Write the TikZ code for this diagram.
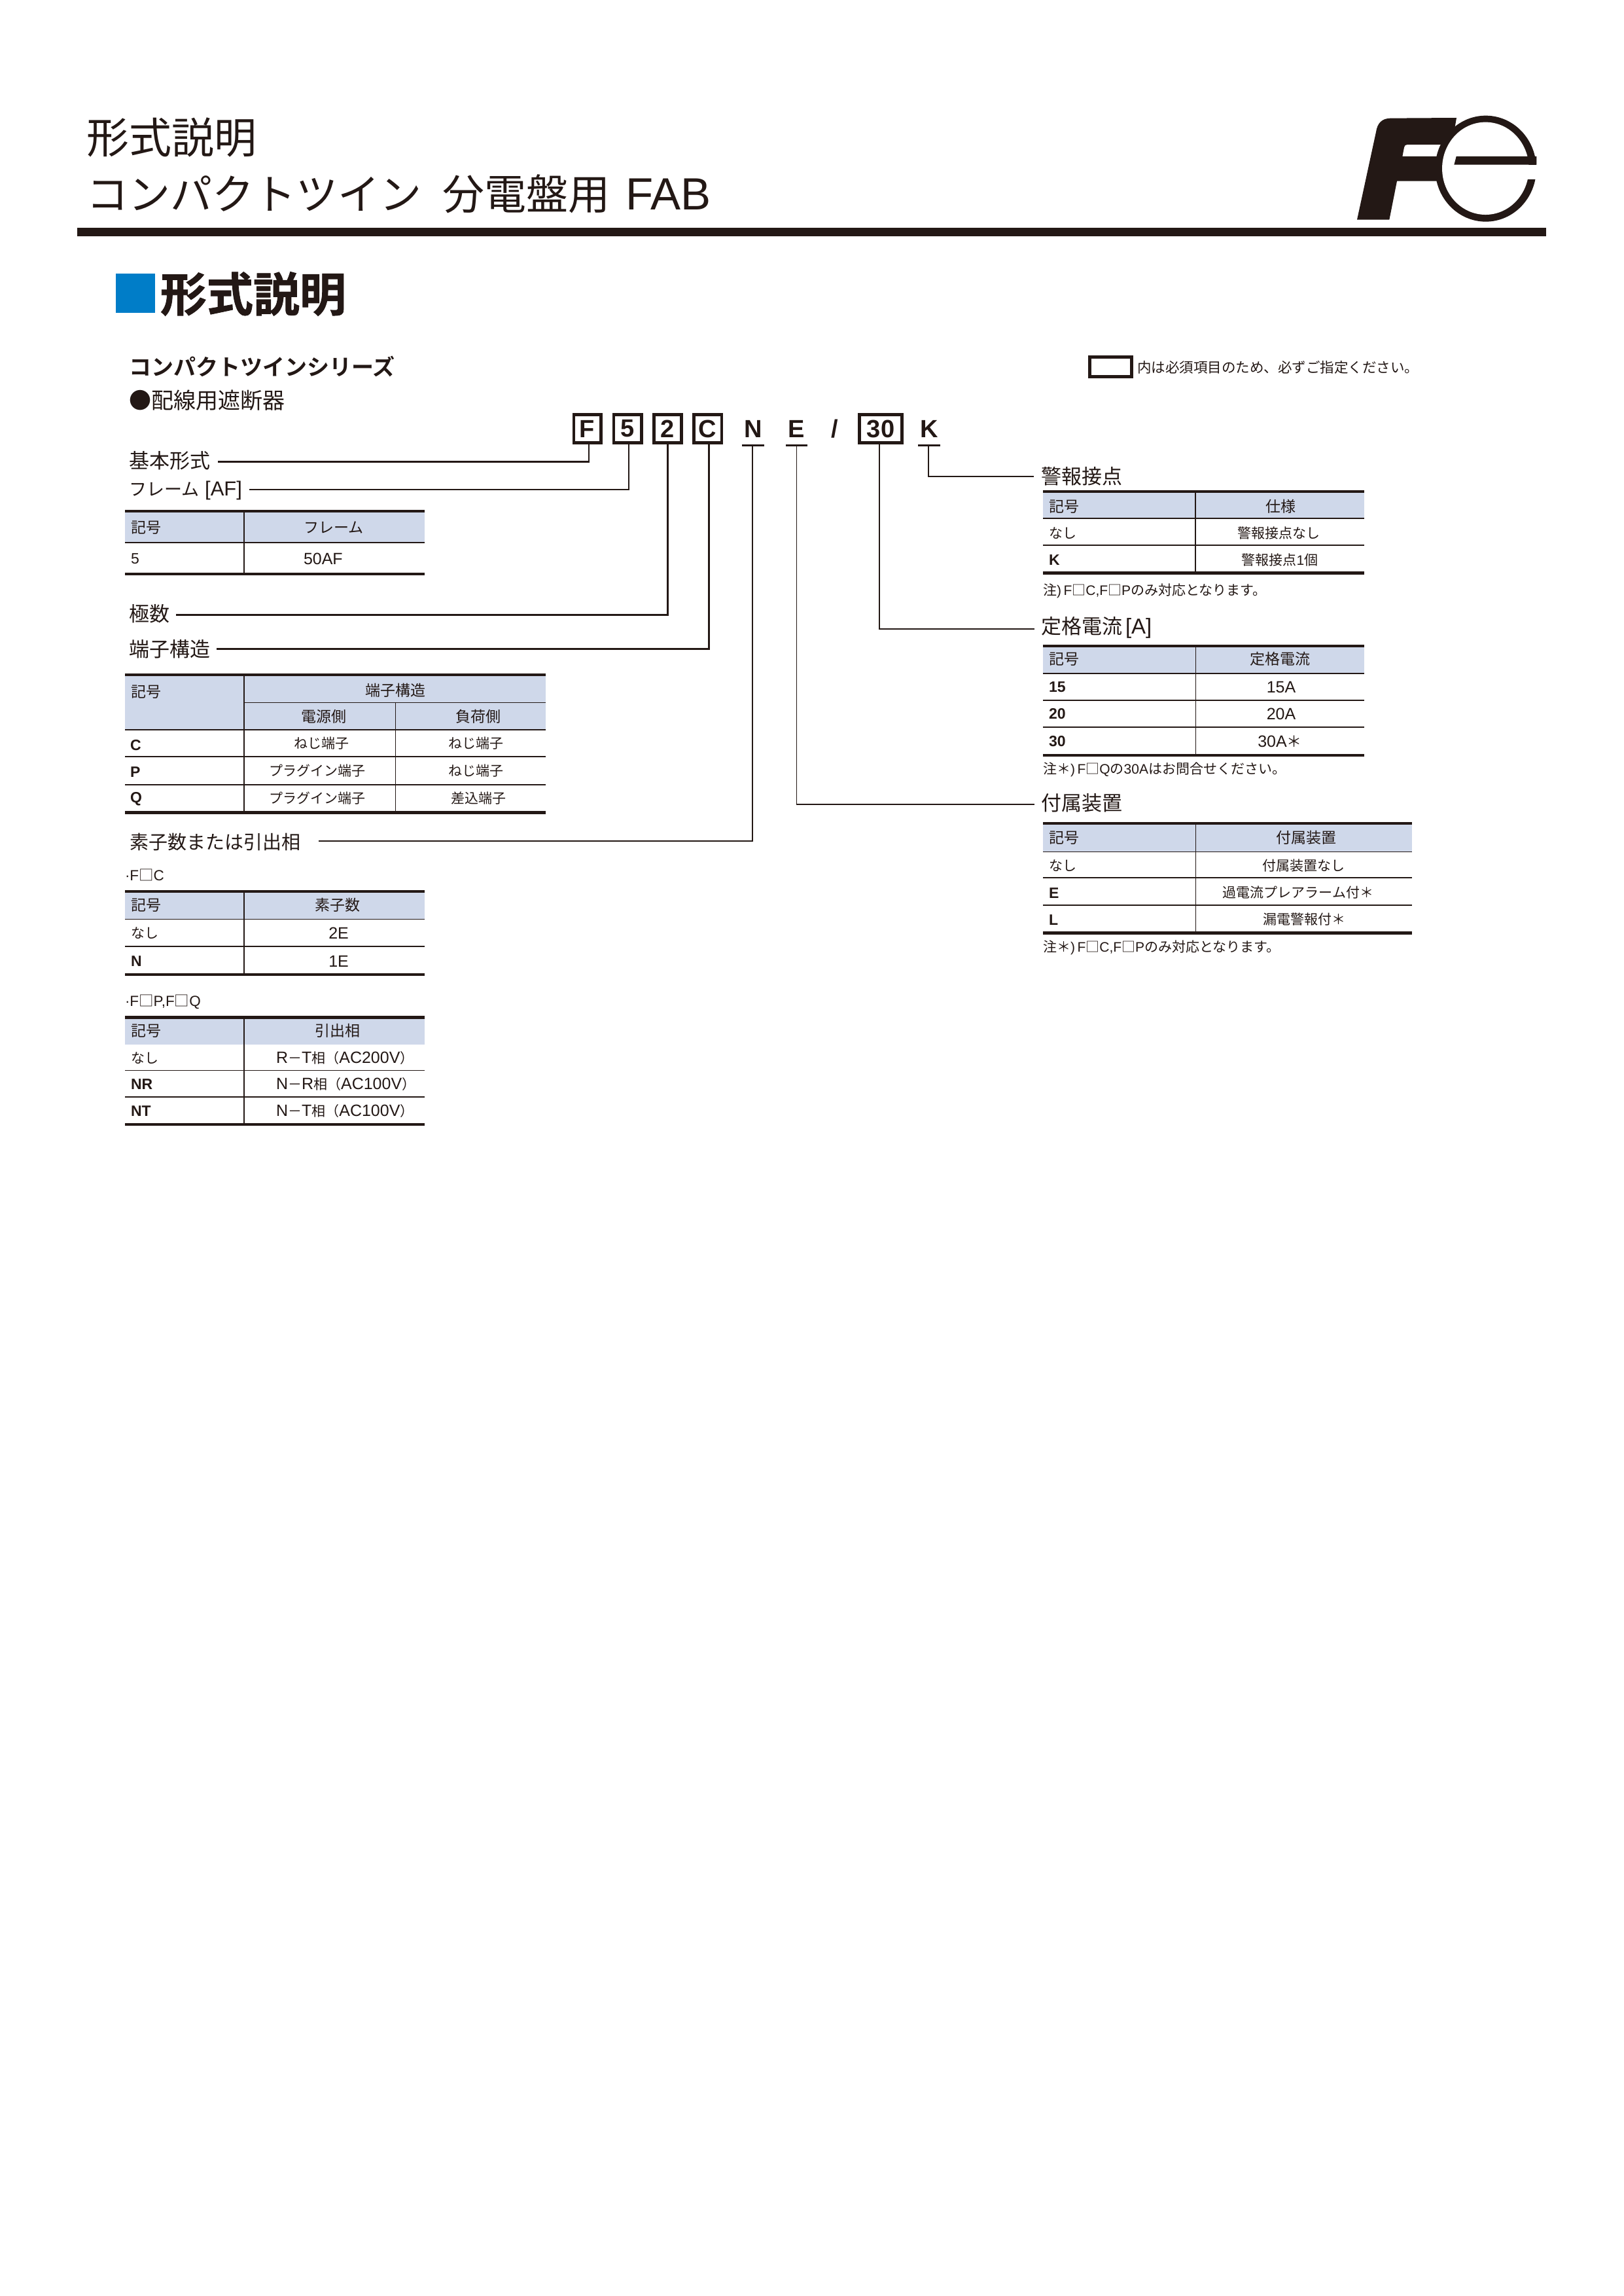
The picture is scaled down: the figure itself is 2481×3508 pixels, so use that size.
\documentclass[tikz,border=0pt]{standalone}
\usepackage{fontspec}
\setmainfont{Noto Sans CJK JP}
\newfontfamily\lib{Liberation Sans}
\newfontfamily\libm{Liberation Sans}[UprightFont=* Bold]
\newfontfamily\libc{Liberation Sans}[UprightFont=* Bold]
\newfontfamily\jph{Noto Sans CJK JP}[UprightFont=* Bold,FakeBold=1.2]
\newfontfamily\jpb{Noto Sans CJK JP}[UprightFont=* Bold]
\definecolor{ink}{HTML}{231815}
\definecolor{headfill}{HTML}{CFD8EA}
\definecolor{blue1}{HTML}{007DC8}
\newcommand\fsz[1]{\fontsize{#1}{#1}\selectfont}
\newcommand\lt[1]{{\fontsize{25}{25}\selectfont\lib #1}}
\tikzset{
  txt/.style={inner sep=0pt,outer sep=0pt,text=ink,font=\fsz{#1}},
  lead/.style={txt=31,anchor=west},
  hdl/.style={txt=23,anchor=west},
  hdc/.style={txt=23,anchor=center},
  cellc/.style={txt=21,anchor=center},
  celll/.style={txt=21,anchor=west},
  symb/.style={txt=23,anchor=west,font=\fsz{23}\libm},
  valc/.style={txt=25,anchor=center,font=\fsz{25}\lib},
  note/.style={txt=21,anchor=west},
  subnote/.style={txt=22.5,anchor=west,font=\fsz{22.5}\lib},
  codebox/.style={draw=ink,line width=4.5pt,minimum width=#1,minimum height=43pt,inner sep=0pt,outer sep=0pt,text=ink,font=\fsz{38}\libc},
  codeline/.style={inner sep=0pt,outer sep=0pt,minimum width=#1,minimum height=47.7pt,text=ink,font=\fsz{38}\libc},
  leader/.style={draw=ink,line width=2.3pt,line join=miter},
  leaderthin/.style={draw=ink,line width=1.5pt},
  thin rule/.style={draw=ink,line width=1.2pt},
  thick rule/.style={draw=ink,line width=4.2pt},
}
% x0, x1, xdiv, ytop, yhead, ybot, row lines
\newcommand\drawtable[7]{%
  \fill[headfill] (#1,#4) rectangle (#2,#5);
  \foreach \yy in {#7} {\draw[thin rule] (#1,\yy) -- (#2,\yy);}
  \draw[thin rule] (#3,#4) -- (#3,#6);
  \draw[thick rule] (#1,#4) -- (#2,#4);
  \draw[thick rule] (#1,#6) -- (#2,#6);
}
\begin{document}
\begin{tikzpicture}[x=1pt,y=-1pt]
\useasboundingbox (0,0) rectangle (2481,3508);
\fill[white] (0,0) rectangle (2481,3508);

% page heading
\node[txt=65,anchor=west] (head1) at (132,210) {形式説明};
\node[txt=64,anchor=west] (head2) at (132,296) {コンパクトツイン\hspace{33pt}分電盤用\hspace{23pt}{\fsz{69}\lib FAB}};
\fill[ink] (118,348) rectangle (2363,361);

% logo
\begin{scope}[shift={(2060,160)},x=0.33333pt,y=-0.33333pt]
  \fill[ink] (42,527) -- (190,527) -- (225,350) -- (410,350) -- (425,237) -- (250,237) -- (258,195)
     .. controls (260,187) and (264,183) .. (272,183) -- (450,183) -- (487,125) -- (498,60) -- (195,62)
     .. controls (155,63) and (135,85) .. (129,125) -- cycle;
  \fill[ink] (632,293) ellipse [x radius=77.3pt,y radius=81pt];
  \fill[white] (631,292) ellipse [x radius=66.3pt,y radius=70.7pt];
  \fill[white] (812,275) -- (900,275) -- (900,342) -- (812,342) -- cycle;
  \fill[ink] (497,237) -- (865,237) -- (865,275) -- (487,275) -- cycle;
  \fill[white] (848,342) -- (900,342) -- (900,310) -- (860,310) -- cycle;
\end{scope}

% section heading
\fill[blue1] (177,418) rectangle (237,478);
\node[txt=71,anchor=west,font=\fsz{71}\jph] (sect) at (245,449) {形式説明};
\node[txt=34,anchor=west,font=\fsz{34}\jpb] (series) at (197,560) {コンパクトツインシリーズ};
\node[txt=34,anchor=west] (kind) at (197,612) {●配線用遮断器};

% legend
\node[draw=ink,line width=5pt,minimum width=64pt,minimum height=30pt,inner sep=0pt,outer sep=0pt] (legend) at (1697.5,560.5) {};
\node[txt=21.5,anchor=west] (legendt) at (1738,561) {内は必須項目のため、必ずご指定ください。};

% type code
\node[codebox=41.5pt] (cF) at (897.5,655) {F};
\node[codebox=42.5pt] (c5) at (959,655) {5};
\node[codebox=42pt] (c2) at (1020.5,655) {2};
\node[codebox=42.5pt] (cC) at (1081.5,655) {C};
\node[codeline=34pt] (cN) at (1151,655) {N};
\node[codeline=33pt] (cE) at (1217.5,655) {E};
\node[txt=38,font=\fsz{38}\libm] (cS) at (1276,655) {/};
\node[codebox=65pt] (c30) at (1346,655) {30};
\node[codeline=34pt] (cK) at (1420,655) {K};
\draw[draw=ink,line width=3pt] ([yshift=-1.3pt]cN.south west) -- ([yshift=-1.3pt]cN.south east);
\draw[draw=ink,line width=3pt] ([yshift=-1.3pt]cE.south west) -- ([yshift=-1.3pt]cE.south east);
\draw[draw=ink,line width=3pt] ([yshift=-1.3pt]cK.south west) -- ([yshift=-1.3pt]cK.south east);

% left labels
\node[lead] (lBasic) at (197,704) {基本形式};
\node[lead] (lFrame) at (197,749) {{\fsz{27}フレーム}\hspace{9pt}{\lib [AF]}};
\node[lead] (lPole) at (197,938) {極数};
\node[lead] (lTerm) at (197,992) {端子構造};
\node[txt=29,anchor=west] (lElem) at (198,1286) {素子数または引出相};
\node[lead] (lAlarm) at (1591,728) {警報接点};
\node[lead] (lRated) at (1591,959) {定格電流\hspace{5pt}{\fsz{33}\lib [A]}};
\node[lead] (lAcc) at (1591,1227) {付属装置};

% connector free ends
\coordinate (eBasic) at (333,705.5);
\coordinate (eFrame) at (381,748);
\coordinate (ePole) at (269,939.6);
\coordinate (eTerm) at (331,991.6);
\coordinate (eElem) at (487,1285);
\coordinate (eAcc) at (1581,1229);
\coordinate (eRated) at (1581,961);
\coordinate (eAlarm) at (1580,728);

\draw[leader] ([xshift=2.5pt]cF.south) |- (eBasic);
\draw[leader] ([xshift=2pt]c5.south) |- (eFrame);
\draw[leader] (c2.south) |- (ePole);
\draw[leader] ([xshift=2pt]cC.south) |- (eTerm);
\draw[leader] ([xshift=-1pt]cN.south) |- (eElem);
\draw[leaderthin] (cE.south) |- (eAcc);
\draw[leader] ([xshift=-2pt]c30.south) |- (eRated);
\draw[leader] ([xshift=-1pt]cK.south) |- (eAlarm);

% table: frame
\drawtable{191}{649}{373}{781}{829}{877}{829}
\node[hdl] (t1a) at (200,806) {記号};
\node[hdl] (t1b) at (464,806) {フレーム};
\node[symb,font=\fsz{23}\lib] (t1c) at (200,854) {5};
\node[valc,anchor=west] (t1d) at (464,854) {50AF};

% table: terminals
\drawtable{191}{834}{373}{1031}{1115}{1241.5}{1115,1156,1199}
\draw[thin rule] (373,1073.4) -- (834,1073.4);
\draw[thin rule] (604.6,1073.4) -- (604.6,1241);
\node[hdl] (t2a) at (200,1057) {記号};
\node[hdc] (t2b) at (604.6,1054.5) {端子構造};
\node[hdc] (t2c) at (495,1095) {電源側};
\node[hdc] (t2d) at (731,1095) {負荷側};
\node[symb] (t2e) at (199,1138.5) {C};
\node[symb] (t2f) at (199,1180) {P};
\node[symb] (t2g) at (199,1221) {Q};
\node[cellc] (t2h) at (491.6,1136) {ねじ端子};
\node[cellc] (t2i) at (727,1136) {ねじ端子};
\node[cellc] (t2j) at (485,1178) {プラグイン端子};
\node[cellc] (t2k) at (727,1178) {ねじ端子};
\node[cellc] (t2l) at (485,1220) {プラグイン端子};
\node[cellc] (t2m) at (731,1220) {差込端子};

% table: elements
\node[subnote] (n3) at (191,1337) {·F{\rmfamily □}C};
\drawtable{191}{649}{373}{1362}{1404.6}{1489}{1404.6,1446}
\node[hdl] (t3a) at (200,1383) {記号};
\node[hdc] (t3b) at (516,1383) {素子数};
\node[celll] (t3c) at (200,1426) {なし};
\node[valc] (t3d) at (517.6,1426) {2E};
\node[symb] (t3e) at (200,1468.6) {N};
\node[valc] (t3f) at (517.6,1468.6) {1E};

% table: phases
\node[subnote] (n4) at (191,1531) {·F{\rmfamily □}P,F{\rmfamily □}Q};
\drawtable{191}{649}{373}{1554.5}{1596}{1718}{1635.5,1676}
\node[hdl] (t4a) at (200,1575) {記号};
\node[hdc] (t4b) at (516,1575) {引出相};
\node[celll] (t4c) at (200,1616.5) {なし};
\node[symb] (t4d) at (200,1657) {NR};
\node[symb] (t4e) at (200,1698) {NT};
\node[celll] (t4f) at (422,1616.5) {\lt{R}－\lt{T}相（\lt{AC200V}）};
\node[celll] (t4g) at (422,1657) {\lt{N}－\lt{R}相（\lt{AC100V}）};
\node[celll] (t4h) at (422,1698) {\lt{N}－\lt{T}相（\lt{AC100V}）};

% table: alarm
\drawtable{1594}{2085}{1827}{751}{792}{875.5}{792,833}
\node[hdl] (t5a) at (1603,774) {記号};
\node[hdc] (t5b) at (1957,774) {仕様};
\node[celll] (t5c) at (1603,815) {なし};
\node[cellc] (t5d) at (1954,815) {警報接点なし};
\node[symb] (t5e) at (1603,855.5) {K};
\node[cellc] (t5f) at (1956,855.5) {警報接点{\lib 1}個};
\node[note] (n5) at (1594,903) {注{\lib )\,F}□{\lib C,F}□{\lib P}のみ対応となります。};

% table: rated current
\drawtable{1594}{2085}{1827.5}{987}{1029}{1154}{1029,1070,1111}
\node[hdl] (t6a) at (1603,1007) {記号};
\node[hdc] (t6b) at (1956,1007) {定格電流};
\node[symb] (t6c) at (1603,1050) {15};
\node[symb] (t6d) at (1603,1091) {20};
\node[symb] (t6e) at (1603,1133) {30};
\node[valc] (t6f) at (1958,1050) {15A};
\node[valc] (t6g) at (1958,1091) {20A};
\node[txt=23] (t6h) at (1956,1133) {\lt{30A}＊};
\node[note] (n6) at (1594,1176) {注＊{\lib )\,F}□{\lib Q}の{\lib 30A}はお問合せください。};

% table: accessories
\drawtable{1594}{2158}{1827.5}{1258}{1301.5}{1425.5}{1301.5,1341,1383}
\node[hdl] (t7a) at (1603,1280) {記号};
\node[hdc] (t7b) at (1996,1280) {付属装置};
\node[celll] (t7c) at (1603,1323) {なし};
\node[cellc] (t7d) at (1992,1323) {付属装置なし};
\node[symb] (t7e) at (1603,1365) {E};
\node[cellc] (t7f) at (1984,1364) {過電流プレアラーム付＊};
\node[symb] (t7g) at (1603,1406) {L};
\node[cellc] (t7h) at (1993,1405) {漏電警報付＊};
\node[note] (n7) at (1594,1448) {注＊{\lib )\,F}□{\lib C,F}□{\lib P}のみ対応となります。};
\end{tikzpicture}
\end{document}
